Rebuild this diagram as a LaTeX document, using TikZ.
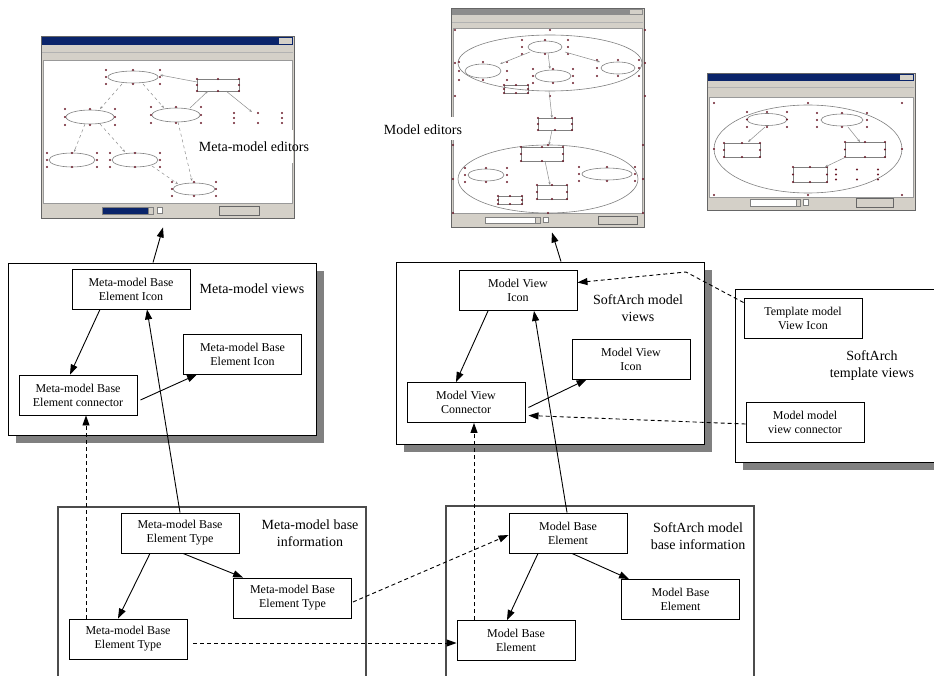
\documentclass[tikz,border=0pt]{standalone}
\usepackage{fontspec}
\setmainfont{Liberation Serif}
\usetikzlibrary{arrows.meta,shadows}
\definecolor{wingray}{HTML}{D4D0C8}
\definecolor{titleblue}{HTML}{0A246A}
\definecolor{hdlred}{HTML}{6B1A2A}
\newcommand{\hdls}[4]{\foreach \dx/\dy in {-1/-1,0/-1,1/-1,-1/0,1/0,-1/1,0/1,1/1}{\fill[hdl] ({#1+\dx*#3},{#2+\dy*#4}) circle (1.2pt);}}
\newcommand{\selell}[6]{\draw[shapeln] (#1,#2) ellipse [x radius=#3pt, y radius=#4pt]; \hdls{#1}{#2}{#5}{#6}}
\newcommand{\selbox}[4]{\draw[shapeln] ({#1-#3},{#2-#4}) rectangle ({#1+#3},{#2+#4}); \hdls{#1}{#2}{#3}{#4}}
\begin{document}
\begin{tikzpicture}[x=1pt,y=-1pt,line width=0.9pt,
  elem/.style={draw, fill=white, align=center, minimum width=118pt, minimum height=40pt, inner sep=1pt, font=\fontsize{12}{14}\selectfont},
  layer/.style={draw, fill=white, minimum width=308pt, minimum height=172pt, drop shadow={shadow xshift=8pt, shadow yshift=-8pt, fill=black!50, opacity=1}},
  base/.style={draw=black!70, line width=1.1pt, fill=white, minimum width=308pt, minimum height=194pt},
  ttl/.style={align=center, font=\fontsize{14}{17}\selectfont},
  arr/.style={-{Triangle[length=10pt,width=7pt]}},
  dsh/.style={arr, dash pattern=on 4pt off 3pt},
  win/.style={draw=black!60, fill=wingray, inner sep=0pt},
  canv/.style={draw=black!40, line width=0.6pt, fill=white},
  hdl/.style={fill=hdlred},
  shapeln/.style={draw=black!50, line width=0.6pt},
  lnk/.style={draw=black!45, line width=0.5pt, -{Stealth[length=3pt]}},
]
\useasboundingbox (0,0) rectangle (934,676);
\clip (0,0) rectangle (934,676);

\node[win, minimum width=253pt, minimum height=182pt] (mmWin) at (167.5,127) {};
\fill[titleblue] (42,37) rectangle (293,45);
\fill[wingray] (279,38) rectangle (292,44);
\draw[black!30, line width=0.5pt] (42,52) -- (293,52);
\filldraw[canv] (43,60) rectangle (292,203);
\filldraw[fill=titleblue, draw=black!50, line width=0.5pt] (102,207) rectangle (148,214);
\filldraw[fill=wingray, draw=black!50, line width=0.5pt] (148,207) rectangle (153,214);
\filldraw[fill=white, draw=black!50, line width=0.5pt] (157,207) rectangle (162,213);
\filldraw[fill=wingray, draw=black!60, line width=0.5pt] (219,206) rectangle (259,215);
\selell{133}{77}{25}{6}{27}{7}
\selell{90}{117}{24}{7}{25}{8}
\selell{176}{115}{24}{7}{25}{8}
\selbox{218}{85}{21}{6}
\hdls{258}{118}{24}{5}
\selell{72}{160}{23}{7}{25}{7}
\selell{135}{160}{23}{7}{25}{7}
\selell{194}{189}{21}{6}{22}{7}
\draw[lnk, dashed] (122,84) -- (100,109);
\draw[lnk, dashed] (143,84) -- (164,108);
\draw[lnk, dashed] (85,124) -- (74,152);
\draw[lnk, dashed] (100,124) -- (125,152);
\draw[lnk, dashed] (178,122) -- (192,181);
\draw[lnk, dashed] (152,166) -- (178,184);
\draw[lnk] (197,82) -- (160,75);
\draw[lnk] (190,108) -- (208,91);
\draw[lnk] (226,91) -- (252,112);

\node[win, minimum width=193pt, minimum height=219pt] (mWin) at (547.5,117.5) {};
\fill[black!45] (452,9) rectangle (643,15);
\fill[wingray] (630,10) rectangle (642,14);
\draw[black!30, line width=0.5pt] (452,22) -- (643,22);
\filldraw[canv] (453,28) rectangle (642,213);
\filldraw[fill=white, draw=black!50, line width=0.5pt] (485,217) rectangle (535,223);
\filldraw[fill=wingray, draw=black!50, line width=0.5pt] (535,217) rectangle (540,223);
\filldraw[fill=white, draw=black!50, line width=0.5pt] (543,217) rectangle (548,222);
\filldraw[fill=wingray, draw=black!60, line width=0.5pt] (598,216) rectangle (637,224);
\selell{550}{63}{92}{28}{95}{33}
\selell{548}{179}{90}{34}{95}{34}
\selell{545}{47}{17}{6}{23}{7}
\selell{483}{71}{18}{7}{24}{9}
\selell{553}{76}{18}{6}{20}{7}
\selell{618}{68}{17}{6}{21}{8}
\selbox{516}{89}{12}{4}
\selbox{555}{124}{17}{6}
\selbox{542}{154}{21}{7}
\selell{486}{175}{18}{6}{21}{7}
\selell{607}{174}{25}{6}{28}{7}
\selbox{552}{192}{15}{7}
\selbox{510}{200}{12}{4}
\draw[lnk] (530,52) -- (500,64);
\draw[lnk] (548,53) -- (550,69);
\draw[lnk] (565,52) -- (600,62);
\draw[lnk] (549,91) -- (552,118);
\draw[lnk] (552,130) -- (549,145);
\draw[lnk] (545,161) -- (550,185);

\node[win, minimum width=208pt, minimum height=137pt] (tWin) at (811,141.5) {};
\fill[titleblue] (708,74) rectangle (914,81);
\fill[wingray] (900,75) rectangle (913,80);
\draw[black!30, line width=0.5pt] (708,87) -- (914,87);
\filldraw[canv] (709,97) rectangle (913,197);
\filldraw[fill=white, draw=black!50, line width=0.5pt] (750,199) rectangle (796,206);
\filldraw[fill=wingray, draw=black!50, line width=0.5pt] (796,199) rectangle (800,206);
\filldraw[fill=white, draw=black!50, line width=0.5pt] (803,199) rectangle (808,205);
\filldraw[fill=wingray, draw=black!60, line width=0.5pt] (856,198) rectangle (893,207);
\selell{808}{149}{94}{44}{94}{46}
\selell{767}{119.5}{20}{6}{20}{7.5}
\selell{842}{120}{21}{6}{25}{7}
\selbox{742}{150}{18}{7}
\selbox{865}{149.5}{20}{7.5}
\selbox{810}{174.5}{17}{7.5}
\hdls{857}{174.5}{21}{5}
\draw[lnk] (765,127) -- (748,142);
\draw[lnk] (848,127) -- (860,142);
\draw[lnk] (846,157) -- (825,167);

\fill[white] (193,130) rectangle (293,163);
\node[ttl] (mmEdLbl) at (254,147) {Meta-model editors};
\fill[white] (370,117) rectangle (487,140);
\node[ttl] (mEdLbl) at (423,130) {Model editors};

\node[layer] (mvBox) at (162,349) {};
\node[layer, minimum height=182pt] (svBox) at (550,353) {};
\node[layer, minimum width=225pt, minimum height=173pt] (tvBox) at (847.5,375.5) {};
\node[base] (mbBox) at (212,604) {};
\node[base] (sbBox) at (600,603) {};

\node[ttl] (mvLbl) at (252,289) {Meta-model views};
\node[ttl] (svLbl) at (638,308) {SoftArch model\\views};
\node[ttl] (tvLbl) at (872,365.5) {SoftArch\\template views};
\node[ttl] (mbLbl) at (310,533.5) {Meta-model base\\information};
\node[ttl] (sbLbl) at (698,536.5) {SoftArch model\\base information};

\node[elem] (mvTop) at (131,289) {Meta-model Base\\Element Icon};
\node[elem] (mvRight) at (242.5,354) {Meta-model Base\\Element Icon};
\node[elem] (mvConn) at (78,395) {Meta-model Base\\Element connector};
\node[elem] (mbTop) at (180,533) {Meta-model Base\\Element Type};
\node[elem] (mbMid) at (292.5,598) {Meta-model Base\\Element Type};
\node[elem] (mbBot) at (128,639) {Meta-model Base\\Element Type};
\node[elem] (svTop) at (518,290.5) {Model View\\Icon};
\node[elem] (svRight) at (631,359) {Model View\\Icon};
\node[elem] (svConn) at (466,402.5) {Model View\\Connector};
\node[elem] (sbTop) at (568,533) {Model Base\\Element};
\node[elem] (sbRight) at (680.5,599.5) {Model Base\\Element};
\node[elem] (sbBot) at (516,640.5) {Model Base\\Element};
\node[elem] (tvIcon) at (803,318) {Template model\\View Icon};
\node[elem] (tvConn) at (805,422) {Model model\\view connector};

\draw[arr] ([xshift=-9pt]mvBox.north) -- ([xshift=-4.5pt,yshift=-9pt]mmWin.south);
\draw[arr] ([xshift=11pt]svBox.north) -- ([xshift=4.5pt,yshift=-5pt]mWin.south);
\draw[arr] ([xshift=-31pt]mvTop.south) -- ([xshift=-8pt]mvConn.north);
\draw[arr] ([xshift=3pt,yshift=-5pt]mvConn.east) -- ([xshift=14pt]mvRight.south west);
\draw[arr] (mbTop.north) -- ([xshift=16pt]mvTop.south);
\draw[dsh] ([xshift=-42pt]mbBot.north) -- ([xshift=8pt]mvConn.south);
\draw[arr] ([xshift=-30pt]mbTop.south) -- ([xshift=-10pt]mbBot.north);
\draw[arr] ([xshift=3pt]mbTop.south) -- ([xshift=10pt]mbMid.north west);
\draw[dsh] ([xshift=1pt,yshift=-4pt]mbMid.east) -- ([yshift=-2pt]sbTop.west);
\draw[dsh] ([xshift=6pt,yshift=-4pt]mbBot.east) -- ([yshift=-2.5pt]sbBot.west);
\draw[arr] ([xshift=-30pt]sbTop.south) -- ([xshift=-9pt]sbBot.north);
\draw[arr] ([xshift=4pt]sbTop.south) -- ([xshift=8pt]sbRight.north west);
\draw[arr] ([xshift=-1pt]sbTop.north) -- ([xshift=16pt]svTop.south);
\draw[dsh] ([xshift=-42pt]sbBot.north) -- ([xshift=8pt]svConn.south);
\draw[arr] ([xshift=-30pt]svTop.south) -- ([xshift=-10pt]svConn.north);
\draw[arr] ([xshift=3pt,yshift=-5pt]svConn.east) -- ([xshift=15pt]svRight.south west);
\coordinate (tvBend) at (686,272);
\draw[dsh] ([yshift=-5pt]tvIcon.north west) -- (tvBend) -- ([yshift=8pt]svTop.east);
\draw[dsh] ([yshift=-2pt]tvConn.west) -- ([xshift=3pt,yshift=-13pt]svConn.east);
\end{tikzpicture}
\end{document}
